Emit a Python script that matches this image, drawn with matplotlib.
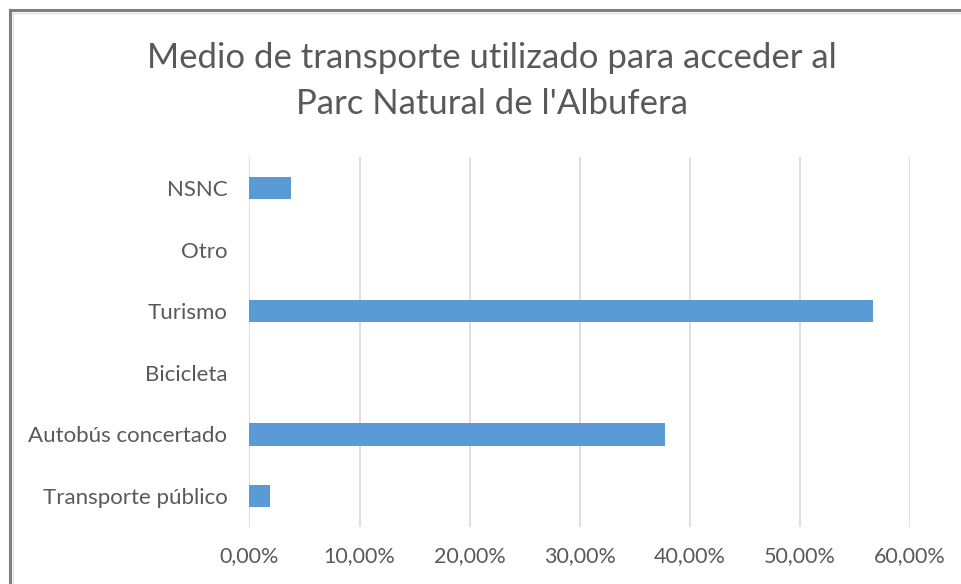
import matplotlib.pyplot as plt
from matplotlib.lines import Line2D
from matplotlib.ticker import FuncFormatter

categories = ["Transporte público", "Autobús concertado", "Bicicleta",
              "Turismo", "Otro", "NSNC"]
values = [1.9, 37.7, 0.0, 56.6, 0.0, 3.8]
xticks = [0, 10, 20, 30, 40, 50, 60]
title = "Medio de transporte utilizado para acceder al\nParc Natural de l'Albufera"

TEXT = "#595959"
BAR = "#5B9BD5"
GRID = "#D9D9D9"

plt.rcParams["font.family"] = ["Lato", "DejaVu Sans"]

W, H = 962, 584
fig = plt.figure(figsize=(W / 100, H / 100), dpi=100)
ax = fig.add_axes([249.5 / W, 1 - 527 / H, (910 - 249.5) / W, (527 - 157) / H])

ax.barh(range(len(categories)), values, height=0.36, color=BAR, zorder=3)
ax.set_ylim(-0.5, len(categories) - 0.5)
ax.set_xlim(0, 60)
ax.set_xticks(xticks)
ax.xaxis.set_major_formatter(FuncFormatter(lambda v, _: f"{v:.2f}%".replace(".", ",")))
ax.set_yticks(range(len(categories)))
ax.set_yticklabels(categories)
ax.tick_params(length=0, labelcolor=TEXT)
ax.tick_params(axis="x", pad=14, labelsize=15.5)
ax.tick_params(axis="y", pad=16, labelsize=16)
ax.grid(axis="x", color=GRID, linewidth=1.2, zorder=0)
for s in ax.spines.values():
    s.set_visible(False)

fig.text(492 / W, 1 - 81 / H, title, ha="center", va="center",
         fontsize=25, color=TEXT, linespacing=1.5)

# chart frame: top and left edges only
fig.add_artist(Line2D([9.5 / W, 1], [1 - 9.5 / H] * 2, color="#7F7F7F", linewidth=2.2))
fig.add_artist(Line2D([9.5 / W] * 2, [0, 1 - 9.5 / H], color="#7F7F7F", linewidth=2.2))
fig.add_artist(Line2D([12.5 / W, 1], [1 - 12.5 / H] * 2, color="#E0E0E0", linewidth=1))
fig.add_artist(Line2D([12.5 / W] * 2, [0, 1 - 12.5 / H], color="#E0E0E0", linewidth=1))

fig.savefig("out.png", dpi=100)
